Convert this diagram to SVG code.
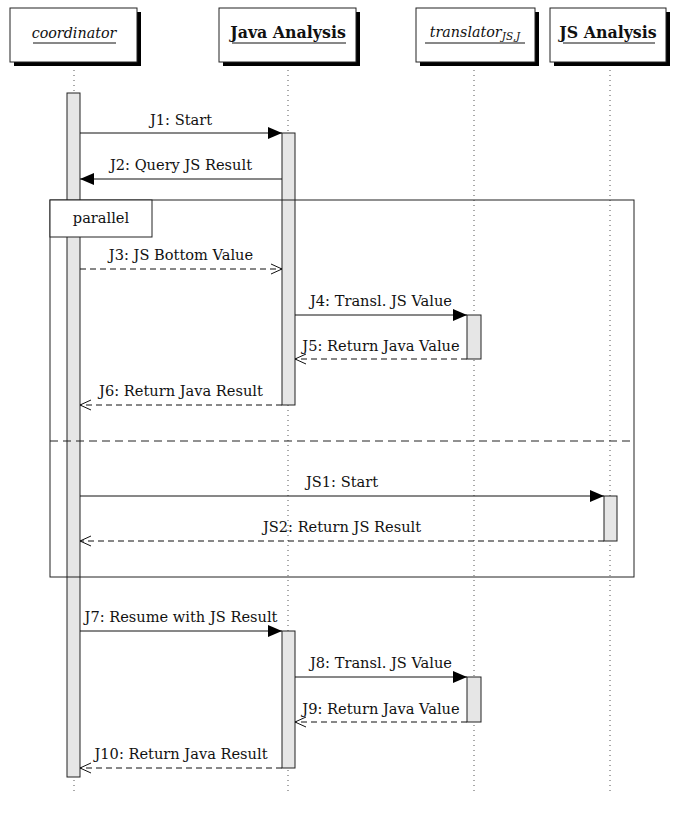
<svg xmlns="http://www.w3.org/2000/svg" width="681" height="814" viewBox="0 0 681 814">
<style>
text{font-family:"DejaVu Serif",serif;font-size:14.6px;fill:#111}
.hd{text-anchor:middle;font-size:15.8px}
.it{font-size:14.3px;font-style:italic}
.lbl{text-anchor:middle}
.life{stroke:#555;stroke-width:1;stroke-dasharray:1 4}
.box{fill:#fff;stroke:#222;stroke-width:1}
.shadow{fill:#000}
.act{fill:#e6e6e6;stroke:#222;stroke-width:1}
.msg{stroke:#111;stroke-width:1;fill:none}
.dash{stroke-dasharray:6 4}
.ul{stroke:#111;stroke-width:1}
</style>
<defs>
<marker id="filled" viewBox="0 0 14 12" refX="14" refY="6" markerWidth="14" markerHeight="12" markerUnits="userSpaceOnUse" orient="auto"><path d="M0,0 L14,6 L0,12 Z" fill="#000"/></marker>
<marker id="open" viewBox="0 0 11 12" refX="11" refY="6" markerWidth="11" markerHeight="12" markerUnits="userSpaceOnUse" orient="auto"><path d="M0,1 L11,6 L0,11" fill="none" stroke="#111" stroke-width="1"/></marker>
</defs>

<g id="lifelines">
<line class="life" x1="74" y1="70" x2="74" y2="792"/>
<line class="life" x1="288" y1="70" x2="288" y2="792"/>
<line class="life" x1="474" y1="70" x2="474" y2="792"/>
<line class="life" x1="610" y1="70" x2="610" y2="792"/>
</g>

<g id="coordinator">
<rect class="shadow" x="14" y="12" width="127" height="54"/>
<rect class="box" x="10" y="8" width="127" height="54"/>
<text class="hd it" x="74" y="38">coordinator</text>
<line class="ul" x1="33" y1="43" x2="116" y2="43"/>
</g>
<g id="java">
<rect class="shadow" x="223" y="12" width="137" height="54"/>
<rect class="box" x="219" y="8" width="137" height="54"/>
<text class="hd" x="288" y="38" font-weight="bold">Java Analysis</text>
<line class="ul" x1="232" y1="43" x2="346" y2="43"/>
</g>
<g id="translator">
<rect class="shadow" x="420" y="12" width="119" height="54"/>
<rect class="box" x="416" y="8" width="119" height="54"/>
<text class="hd it" x="475" y="37">translator<tspan font-size="10.5" dy="2.5">JS,J</tspan></text>
<line class="ul" x1="425" y1="43" x2="525" y2="43"/>
</g>
<g id="jsanalysis">
<rect class="shadow" x="554" y="12" width="116" height="54"/>
<rect class="box" x="550" y="8" width="116" height="54"/>
<text class="hd" x="608" y="38" font-weight="bold">JS Analysis</text>
<line class="ul" x1="563" y1="43" x2="655" y2="43"/>
</g>

<g id="activations">
<rect class="act" x="67" y="93" width="13" height="684"/>
<rect class="act" x="282" y="133" width="13" height="272"/>
<rect class="act" x="467" y="315" width="14" height="44"/>
<rect class="act" x="604" y="496" width="13" height="45"/>
<rect class="act" x="282" y="631" width="13" height="137"/>
<rect class="act" x="467" y="677" width="14" height="45"/>
</g>

<g id="parallel">
<rect x="50" y="200" width="584" height="377" fill="none" stroke="#222" stroke-width="1"/>
<rect class="box" x="50" y="200" width="102" height="37"/>
<text class="lbl" x="101" y="223">parallel</text>
<line x1="50" y1="441" x2="634" y2="441" stroke="#222" stroke-width="1" stroke-dasharray="8 5"/>
</g>

<g id="connectors">
<line class="msg" x1="80" y1="133" x2="282" y2="133" marker-end="url(#filled)"/>
<text class="lbl" x="181" y="125">J1: Start</text>
<line class="msg" x1="282" y1="179" x2="80" y2="179" marker-end="url(#filled)"/>
<text class="lbl" x="181" y="170">J2: Query JS Result</text>
<line class="msg dash" x1="80" y1="269" x2="282" y2="269" marker-end="url(#open)"/>
<text class="lbl" x="181" y="260">J3: JS Bottom Value</text>
<line class="msg" x1="295" y1="315" x2="467" y2="315" marker-end="url(#filled)"/>
<text class="lbl" x="381" y="306">J4: Transl. JS Value</text>
<line class="msg dash" x1="467" y1="359" x2="295" y2="359" marker-end="url(#open)"/>
<text class="lbl" x="381" y="351">J5: Return Java Value</text>
<line class="msg dash" x1="282" y1="405" x2="80" y2="405" marker-end="url(#open)"/>
<text class="lbl" x="181" y="396">J6: Return Java Result</text>
<line class="msg" x1="80" y1="496" x2="604" y2="496" marker-end="url(#filled)"/>
<text class="lbl" x="342" y="487">JS1: Start</text>
<line class="msg dash" x1="604" y1="541" x2="80" y2="541" marker-end="url(#open)"/>
<text class="lbl" x="342" y="532">JS2: Return JS Result</text>
<line class="msg" x1="80" y1="631" x2="282" y2="631" marker-end="url(#filled)"/>
<text class="lbl" x="181" y="622">J7: Resume with JS Result</text>
<line class="msg" x1="295" y1="677" x2="467" y2="677" marker-end="url(#filled)"/>
<text class="lbl" x="381" y="668">J8: Transl. JS Value</text>
<line class="msg dash" x1="467" y1="722" x2="295" y2="722" marker-end="url(#open)"/>
<text class="lbl" x="381" y="714">J9: Return Java Value</text>
<line class="msg dash" x1="282" y1="768" x2="80" y2="768" marker-end="url(#open)"/>
<text class="lbl" x="181" y="759">J10: Return Java Result</text>
</g>
</svg>
